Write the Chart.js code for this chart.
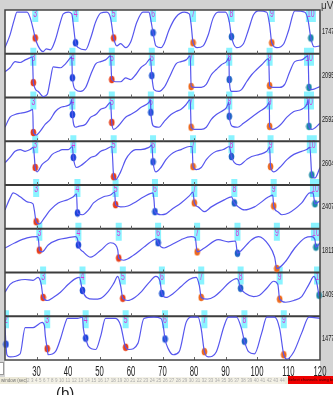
<!DOCTYPE html>
<html>
<head>
<meta charset="utf-8">
<script src="https://cdn.jsdelivr.net/npm/chart.js@4.4.1/dist/chart.umd.min.js"></script>
<style>
  html, body { margin: 0; padding: 0; background: #fff; }
  #wrap { position: relative; width: 333px; height: 395px; overflow: hidden; font-family: "Liberation Sans", Arial, sans-serif; }
  #scope { position: absolute; left: 0; top: 0; }
  .strip { position: absolute; left: 0; top: 377px; width: 288px; height: 7px; background: #ece9d8; }
  .strip .cap { position: absolute; left: 1px; top: 0; font-size: 4.5px; line-height: 7px; color: #777; }
  .strip .nums { position: absolute; left: 27px; right: 3px; top: 0; height: 7px; display: flex; justify-content: space-between; font-size: 4.5px; line-height: 7px; color: #aaa; background: #f3f1e6; }
  .btn { position: absolute; left: 288px; top: 376px; width: 45px; height: 8px; background: #f00000; color: #3a0000; font-size: 4.2px; line-height: 8px; text-align: center; white-space: nowrap; }
  .cap-b { position: absolute; left: 56px; top: 385px; font-size: 15px; line-height: 15px; color: #222; }
  .corner { position: absolute; left: 0; top: 362px; width: 3px; height: 11px; background: #fff; border: 1px solid #999; border-left: none; }
</style>
</head>
<body>
<div id="wrap">
  <canvas id="scope" width="333" height="395"></canvas>
  <div class="corner"></div>
  <div class="strip"><span class="cap">window (sec)</span><div class="nums" id="nums"></div></div>
  <div class="btn">Select channels using button</div>
  <div class="cap-b">(b)</div>
</div>
<script>
// one trace per channel: [time (s), level in % of the row height]
const trace1 = [[20,14],[21.6,43],[22.9,77],[23.8,95],[27,95],[28,82],[29,55],[29.6,36],[30.5,18],[32.1,5],[33.1,11],[34.4,9],[36,32],[37.6,73],[38.5,91],[40.1,95],[41.2,91],[41.7,66],[42.4,25],[43.3,14],[45.6,9],[47.2,36],[48.8,73],[50.4,93],[52.3,95],[53.5,82],[54.5,36],[55.5,18],[56.7,23],[58.3,14],[59.9,27],[61.9,73],[63.8,95],[65.7,95],[66.3,77],[67,48],[67.9,18],[69.5,14],[70.5,23],[72.1,55],[74.3,84],[76.9,95],[78.5,91],[79.1,66],[79.7,25],[81,14],[82.9,18],[84.5,43],[86.1,82],[87.7,95],[90,95],[91.2,73],[91.9,39],[93.5,14],[95.7,23],[97.3,55],[98.9,89],[100.5,98],[103.1,95],[104,66],[104.7,25],[106.3,14],[108.5,23],[110.1,55],[112,98],[115.2,95],[116.2,77],[117.1,36],[118.1,16],[120,18]];
const trace2 = [[20,59],[21.6,68],[23.2,82],[24.8,80],[26.4,86],[28,91],[28.7,93],[29,34],[30.5,14],[32.1,2],[33.4,7],[34.4,41],[35.3,70],[37.6,68],[39.2,77],[40.8,91],[41.2,93],[41.4,45],[42.4,18],[44,14],[45.6,23],[47.2,52],[48.8,77],[50.4,82],[51.9,86],[53.5,95],[53.9,41],[55.1,36],[56.7,36],[58.3,45],[59.9,41],[61.5,52],[63.1,68],[64.7,77],[66.2,89],[66.6,50],[67.3,18],[68.9,14],[70.5,23],[72.1,45],[74.3,77],[75.9,82],[77.5,86],[78.8,95],[79.1,25],[80.1,23],[82.3,23],[83.9,30],[85.5,52],[87.1,64],[88.7,75],[90.3,82],[91.1,91],[91.2,41],[91.9,14],[93.5,14],[95.1,18],[96.7,36],[98.3,52],[99.9,64],[101.5,75],[103.7,89],[104,27],[105,23],[107.2,23],[108.8,30],[110.4,59],[112,82],[114.2,86],[116.2,95],[116.5,23],[117.4,18],[120,25]];
const trace3 = [[20,32],[21.6,55],[23.2,61],[24.8,64],[26.4,66],[28,70],[28.8,73],[29,20],[29.9,14],[31.2,23],[32.8,39],[34.4,50],[36,68],[37.6,77],[39.2,80],[40.8,86],[41.2,95],[41.4,61],[42.4,32],[43.3,34],[45.6,39],[47.2,55],[48.8,61],[50.4,73],[51.9,77],[53.5,89],[53.9,43],[54.5,27],[56.1,36],[58.3,55],[59.9,61],[61.5,68],[63.1,77],[65.7,89],[66.2,95],[66.3,66],[67.3,34],[68.9,32],[70.5,45],[72.7,61],[74.3,68],[75.9,73],[77.5,84],[78.8,95],[79.1,32],[80.1,27],[82.3,27],[83.9,32],[85.5,50],[87.1,61],[88.7,68],[90.3,77],[91.1,89],[91.2,57],[92.2,34],[93.8,32],[95.7,41],[98.3,55],[100.8,68],[103.1,80],[103.9,89],[104,34],[105,27],[107.2,36],[109.5,55],[111.7,68],[114.2,73],[115.8,84],[116.3,95],[116.5,34],[117.4,27],[120,41]];
const trace4 = [[20,51],[21.6,63],[23.2,77],[24.8,81],[26.4,77],[28,81],[29,86],[29.6,40],[30.2,30],[31.8,47],[33.7,58],[35,70],[36.9,77],[38.2,81],[40.1,81],[41.4,88],[41.7,63],[42.7,40],[44,44],[45.6,53],[47.2,63],[48.8,67],[50.4,77],[51.9,81],[53.9,88],[54.5,19],[55.1,12],[56.7,30],[58.3,58],[59.9,74],[61.5,81],[63.1,81],[65.7,86],[66.6,91],[67,53],[67.9,30],[69.5,40],[71.1,58],[72.7,70],[74.3,77],[75.9,81],[78.5,88],[79.4,88],[79.7,42],[80.7,35],[82.3,40],[83.9,58],[85.5,70],[87.1,77],[89.3,81],[91.2,88],[91.9,65],[92.8,51],[94.4,46],[96.7,58],[98.3,65],[100.8,70],[103.1,77],[104,86],[104.3,42],[105.3,30],[107.2,40],[109.5,58],[111.7,70],[114.2,77],[115.8,81],[116.8,86],[117.4,23],[118.4,16],[120,40]];
const trace5 = [[20,43],[21.6,70],[22.6,82],[24.8,73],[27.3,61],[28.9,57],[29.3,43],[29.9,16],[30.9,11],[32.5,25],[34.4,43],[36.9,59],[39.8,66],[41.7,73],[42.7,80],[43,36],[44.6,32],[46.5,43],[48.1,59],[51.3,73],[53.5,77],[54.8,84],[55.1,55],[56.7,50],[59,52],[60.9,59],[64.1,73],[67,82],[67.3,66],[67.6,39],[69.5,32],[71.1,34],[72.7,43],[75.9,59],[78.5,75],[79.7,84],[80.1,59],[81.3,50],[83.3,39],[85.5,50],[89.6,66],[91.9,73],[92.8,59],[94.1,50],[96,43],[99.2,50],[103.7,73],[105,77],[105.3,52],[106.6,39],[107.9,32],[110.1,36],[114.2,59],[116.8,82],[117.8,82],[118.4,57],[120,64]];
const trace6 = [[20,56],[23.2,68],[27,79],[30.2,82],[30.7,70],[30.9,51],[31.8,47],[33.7,63],[36.9,75],[39.8,79],[42.4,82],[43,77],[43.3,63],[44.9,47],[47.2,35],[50.4,51],[53.5,68],[55.1,63],[55.8,51],[56.1,33],[57.7,28],[60.9,40],[64.1,58],[67.3,75],[68.2,77],[68.6,68],[70.5,56],[72.7,63],[75.9,75],[79.1,82],[80.4,79],[81,47],[83.3,56],[87.7,75],[90.9,70],[93.2,72],[93.8,44],[95.1,51],[98.3,75],[100.5,82],[103.7,63],[105.6,35],[106.3,9],[108.8,23],[112,56],[115.2,79],[117.4,82],[118.4,75],[118.7,58],[120,68]];
const trace7 = [[20,55],[21.6,73],[24.2,82],[26.4,84],[28.9,82],[30.5,89],[31.5,73],[32.1,43],[33.4,36],[35.3,43],[37.6,55],[40.1,73],[42.4,86],[43.6,89],[44.6,59],[45.9,43],[48.1,39],[50.4,41],[52.6,55],[54.5,75],[55.8,91],[56.7,70],[57.4,41],[59,36],[61.2,43],[63.4,57],[65.7,77],[67.9,91],[69.2,80],[69.8,52],[71.1,43],[73.4,52],[75.9,68],[78.5,84],[80.7,89],[81.7,70],[82.3,43],[84.2,39],[86.5,45],[88.7,59],[91.2,77],[93.5,86],[94.1,82],[94.8,64],[96.4,52],[98.9,45],[100.8,48],[103.1,64],[105.3,80],[106.6,73],[107.2,39],[109.1,32],[111.7,36],[114.2,45],[116.5,73],[118.1,91],[119,75],[119.7,48],[120,45]];
const trace8 = [[20,79],[20.3,36],[20.6,12],[21.6,7],[24.8,14],[26.4,74],[28.9,74],[31.8,86],[32.5,79],[32.8,55],[33.4,26],[33.7,12],[36,19],[37.6,48],[39.2,86],[39.8,95],[43,95],[44.6,98],[44.9,71],[45.6,50],[46.5,31],[48.8,24],[50.4,55],[51.9,95],[55.1,95],[56.7,79],[58.3,29],[59.3,24],[62.2,38],[64.1,95],[67.3,98],[69.5,95],[70.2,79],[70.8,48],[71.8,26],[73.4,12],[75.3,19],[77.5,86],[79.1,98],[81.3,98],[82.3,71],[83.3,19],[84.5,7],[87.1,19],[89.6,79],[90.9,98],[93.5,98],[95.1,71],[96,43],[97.3,19],[99.2,14],[101.5,62],[103.1,98],[105.6,98],[107.2,71],[108.5,12],[109.5,2],[111.7,19],[114.2,62],[116.5,98],[120,95]];

// detected beat markers per channel: [time (s), level %]
const marks1 = [[29.6,36],[42.4,25],[54.5,36],[67,48],[79.7,25],[91.9,39],[104.7,25],[117.1,36]];
const marks2 = [[29,34],[41.4,45],[53.9,41],[66.6,50],[79.1,25],[91.2,41],[104,27],[116.5,23]];
const marks3 = [[29,20],[41.4,61],[53.9,43],[66.3,66],[79.1,32],[91.2,57],[104,34],[116.5,34]];
const marks4 = [[29.6,40],[41.7,63],[54.5,19],[67,53],[79.7,42],[91.9,65],[104.3,42],[117.4,23]];
const marks5 = [[29.9,16],[43,36],[55.1,55],[67.6,39],[80.1,59],[92.8,59],[105.3,52],[118.4,57]];
const marks6 = [[30.9,51],[43.3,63],[56.1,33],[68.6,68],[81,47],[93.8,44],[106.3,9],[118.7,58]];
const marks7 = [[32.1,43],[44.6,59],[57.4,41],[69.8,52],[82.3,43],[94.8,64],[107.2,39],[119.7,48]];
const marks8 = [[20.3,36],[33.4,26],[45.6,50],[58.3,29],[70.8,48],[83.3,19],[96,43],[108.5,12]];

const firstBeat = [3, 3, 3, 3, 3, 3, 3, 2];
const channelUV = ['1747', '2095', '2592', '2604', '2407', '1811', '1409', '1477'];

const traces = [trace1, trace2, trace3, trace4, trace5, trace6, trace7, trace8];
const marks = [marks1, marks2, marks3, marks4, marks5, marks6, marks7, marks8];
const ROWS = traces.length;

const beatColor = { 2: '#1f4fd6', 3: '#e8401c', 4: '#1c46d8', 5: '#e8401c', 6: '#1f55d4', 7: '#ee6a1e', 8: '#1e62c6', 9: '#ee6a1e', 10: '#1a8aa6' };
const FONT = '"Liberation Sans", Arial, sans-serif';

// small oval dot, the scope draws its markers a bit taller than wide
const dotCache = {};
function dot(color) {
  if (dotCache[color]) return dotCache[color];
  const c = document.createElement('canvas');
  c.width = 7; c.height = 9;
  const g = c.getContext('2d');
  g.fillStyle = color;
  g.beginPath();
  g.ellipse(3.5, 4.5, 2.8, 3.8, 0, 0, Math.PI * 2);
  g.fill();
  dotCache[color] = c;
  return c;
}

// condensed text: the scope uses a tall narrow face
function narrowText(ctx, s, x, y, size, squeeze) {
  ctx.save();
  ctx.translate(x, y);
  ctx.scale(squeeze, 1);
  ctx.font = size + 'px ' + FONT;
  ctx.fillText(s, 0, 0);
  ctx.restore();
}

const rowBase = r => ROWS - 1 - r;

const datasets = [];
traces.forEach((t, r) => {
  datasets.push({
    type: 'line',
    data: t.map(([x, v]) => ({ x, y: rowBase(r) + v / 100 })),
    borderColor: '#5656ee',
    borderWidth: 1.2,
    pointRadius: 0,
    cubicInterpolationMode: 'monotone',
    fill: false,
  });
});
marks.forEach((m, r) => {
  datasets.push({
    type: 'scatter',
    data: m.map(([x, v]) => ({ x, y: rowBase(r) + v / 100 })),
    pointStyle: m.map((_, i) => dot(beatColor[firstBeat[r] + i])),
    pointRadius: 4,
    clip: false,
  });
});

const scopePlugin = {
  id: 'scope',
  beforeDraw(chart) {
    const { ctx, chartArea: a, width } = chart;
    ctx.save();
    ctx.fillStyle = '#fff';
    ctx.fillRect(0, 0, width, chart.height);
    ctx.fillStyle = '#d3d3d3';
    ctx.fillRect(0, 0, width, a.top);
    ctx.fillRect(0, 0, a.left, 377);
    ctx.fillRect(a.right, 0, width - a.right, 377);
    ctx.restore();
  },
  beforeDatasetsDraw(chart) {
    const { ctx, chartArea: a, scales: { x, y } } = chart;
    ctx.save();
    ctx.beginPath();
    ctx.rect(a.left, a.top, a.right - a.left, a.bottom - a.top);
    ctx.clip();
    // beat number tags
    ctx.textAlign = 'center';
    ctx.textBaseline = 'middle';
    marks.forEach((m, r) => {
      const top = y.getPixelForValue(rowBase(r) + 1);
      m.forEach(([t], i) => {
        const n = firstBeat[r] + i;
        const px = x.getPixelForValue(t);
        const w = n >= 10 ? 10 : 6;
        ctx.fillStyle = '#8af3ff';
        ctx.fillRect(px - w / 2, top - 6, w, 18);
        ctx.fillStyle = '#d838d8';
        narrowText(ctx, String(n), px, top + 4, 11, 0.62);
      });
    });
    // row dividers + tick marks
    for (let k = 1; k < ROWS; k++) {
      const yy = y.getPixelForValue(k);
      ctx.strokeStyle = '#3c3c3c';
      ctx.lineWidth = 2;
      ctx.beginPath();
      ctx.moveTo(a.left, yy);
      ctx.lineTo(a.right, yy);
      ctx.stroke();
    }
    ctx.strokeStyle = '#666';
    ctx.lineWidth = 1;
    for (let k = 0; k < ROWS; k++) {
      const yy = y.getPixelForValue(k);
      for (let t = 30; t < 120; t += 10) {
        const px = Math.round(x.getPixelForValue(t)) + 0.5;
        ctx.beginPath();
        ctx.moveTo(px, yy);
        ctx.lineTo(px, yy - 3);
        ctx.stroke();
      }
    }
    ctx.restore();
  },
  afterDatasetsDraw(chart) {
    const { ctx, chartArea: a, scales: { x, y } } = chart;
    ctx.save();
    ctx.strokeStyle = '#444';
    ctx.lineWidth = 1.5;
    ctx.strokeRect(a.left, a.top, a.right - a.left, a.bottom - a.top);
    ctx.fillStyle = '#222';
    ctx.textAlign = 'left';
    ctx.textBaseline = 'middle';
    channelUV.forEach((s, r) => {
      narrowText(ctx, s, a.right + 2, y.getPixelForValue(rowBase(r) + 0.5), 9, 0.62);
    });
    ctx.fillStyle = '#333';
    ctx.font = '10px ' + FONT;
    ctx.fillText('\u03bcV', a.right + 1, 6);
    // x tick labels from the time scale, in the narrow face
    ctx.fillStyle = '#222';
    ctx.textAlign = 'center';
    x.ticks.forEach(tk => {
      if (tk.value === x.min) return;
      narrowText(ctx, String(tk.value), x.getPixelForValue(tk.value), a.bottom + 12, 14, 0.55);
    });
    ctx.restore();
  },
};

new Chart(document.getElementById('scope'), {
  data: { datasets },
  options: {
    responsive: false,
    animation: false,
    devicePixelRatio: 1,
    layout: { padding: { left: 5, right: 13, top: 10, bottom: 20 } },
    plugins: { legend: { display: false }, tooltip: { enabled: false } },
    scales: {
      x: {
        type: 'linear',
        min: 20,
        max: 120,
        grid: { display: false, drawTicks: false },
        border: { display: false },
        ticks: { stepSize: 10, autoSkip: false, display: false },
        afterFit(s) { s.height = 15; },
      },
      y: { type: 'linear', display: false, min: 0, max: ROWS },
    },
  },
  plugins: [scopePlugin],
});

// window index strip under the plot
const nums = document.getElementById('nums');
for (let i = 2; i <= 44; i++) {
  const s = document.createElement('span');
  s.textContent = i;
  nums.appendChild(s);
}
</script>
</body>
</html>
